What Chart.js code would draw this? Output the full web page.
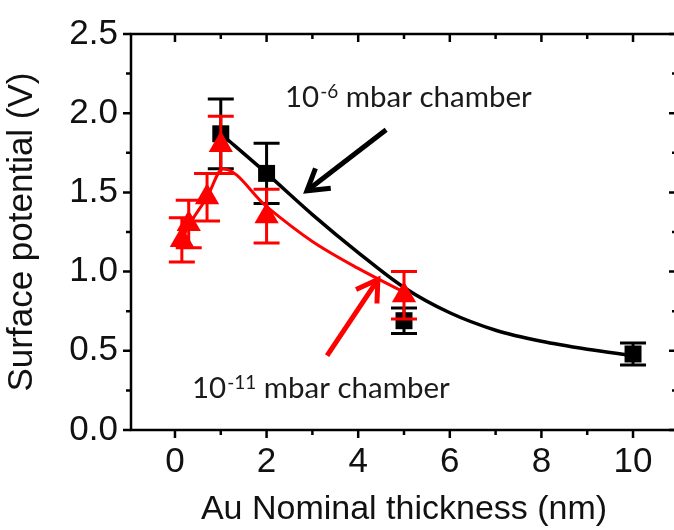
<!DOCTYPE html>
<html>
<head>
<meta charset="utf-8">
<title>Surface potential vs Au thickness</title>
<script src="https://cdn.jsdelivr.net/npm/chart.js@4.4.0/dist/chart.umd.min.js"></script>
<style>
  body { margin: 0; overflow: hidden; background: #fff; }
  #wrap { position: relative; width: 700px; height: 530px; }
</style>
</head>
<body>
<div id="wrap"><canvas id="potentialChart" width="700" height="530"></canvas></div>
<script>
// 10^-6 mbar chamber (black squares)
var thickHigh = [1, 2, 5, 10];
var potHigh = [1.87, 1.62, 0.69, 0.48];
var errHigh = [0.22, 0.19, 0.08, 0.07];

// 10^-11 mbar chamber (red triangles)
var thickUhv = [0.15, 0.3, 0.7, 1, 2, 5];
var potUhv = [1.20, 1.30, 1.47, 1.80, 1.35, 0.85];
var errUhv = [0.14, 0.15, 0.15, 0.18, 0.17, 0.15];

// fitted curves
var fitHighX = [1, 2, 3, 4, 5, 6, 7, 8, 9, 10];
var fitHighY = [1.87, 1.62, 1.36, 1.12, 0.90, 0.74, 0.63, 0.56, 0.51, 0.47];
var fitUhvX = [0.15, 0.3, 0.7, 1.05, 2, 3, 4, 5];
var fitUhvY = [1.20, 1.29, 1.47, 1.65, 1.41, 1.19, 1.02, 0.87];

var xTicks = [0, 2, 4, 6, 8, 10];
var yTicks = [0, 0.5, 1, 1.5, 2, 2.5];

var axisFont = 'Liberation Sans, Arial, sans-serif';
var noteFont = 'Lato, sans-serif';

function toPoints(xs, ys) {
	var pts = [];
	for (var i = 0; i < xs.length; i++) {
		pts.push({x: xs[i], y: ys[i]});
	}
	return pts;
}

function drawErrors(chart, xs, ys, errs, color) {
	var ctx = chart.ctx;
	var sx = chart.scales.x, sy = chart.scales.y;
	ctx.save();
	ctx.strokeStyle = color;
	ctx.lineWidth = 3;
	for (var i = 0; i < xs.length; i++) {
		var px = sx.getPixelForValue(xs[i]);
		var top = sy.getPixelForValue(ys[i] + errs[i]);
		var bot = sy.getPixelForValue(ys[i] - errs[i]);
		ctx.beginPath();
		ctx.moveTo(px, top); ctx.lineTo(px, bot);
		ctx.moveTo(px - 13, top); ctx.lineTo(px + 13, top);
		ctx.moveTo(px - 13, bot); ctx.lineTo(px + 13, bot);
		ctx.stroke();
	}
	ctx.restore();
}

function drawArrow(ctx, x1, y1, x2, y2, color) {
	var ang = Math.atan2(y1 - y2, x1 - x2);
	ctx.save();
	ctx.strokeStyle = color;
	ctx.lineWidth = 5;
	ctx.beginPath();
	ctx.moveTo(x1, y1); ctx.lineTo(x2, y2);
	ctx.stroke();
	ctx.beginPath();
	ctx.moveTo(x2 + 24 * Math.cos(ang - 0.55), y2 + 24 * Math.sin(ang - 0.55));
	ctx.lineTo(x2, y2);
	ctx.lineTo(x2 + 24 * Math.cos(ang + 0.55), y2 + 24 * Math.sin(ang + 0.55));
	ctx.stroke();
	ctx.restore();
}

function drawNote(ctx, x, y, exp) {
	ctx.save();
	ctx.fillStyle = '#1a1a1a';
	ctx.textBaseline = 'alphabetic';
	ctx.font = '29.5px ' + noteFont;
	ctx.fillText('10', x, y);
	var w = ctx.measureText('10').width;
	ctx.font = '19px ' + noteFont;
	ctx.fillText(exp, x + w + 1, y - 9);
	var w2 = ctx.measureText(exp).width;
	ctx.font = '29.5px ' + noteFont;
	ctx.fillText(' mbar chamber', x + w + w2 + 1, y);
	ctx.restore();
}

var framePlugin = {
	id: 'frame',
	beforeDatasetDraw: function(chart, args) {
		if (args.index === 1) drawErrors(chart, thickHigh, potHigh, errHigh, '#000');
		if (args.index === 3) drawErrors(chart, thickUhv, potUhv, errUhv, '#ff0000');
	},
	afterDraw: function(chart) {
		var ctx = chart.ctx, a = chart.chartArea;
		var sx = chart.scales.x, sy = chart.scales.y;
		ctx.save();
		ctx.strokeStyle = '#000';
		ctx.lineWidth = 2.5;
		ctx.strokeRect(a.left, a.top, a.right - a.left, a.bottom - a.top);
		ctx.beginPath();
		for (var v = 0; v <= 10; v++) {
			var px = sx.getPixelForValue(v);
			var len = (v % 2 === 0) ? 8 : 5;
			ctx.moveTo(px, a.bottom); ctx.lineTo(px, a.bottom + len);
			ctx.moveTo(px, a.top); ctx.lineTo(px, a.top + len);
		}
		for (var k = 0; k <= 10; k++) {
			var py = sy.getPixelForValue(k * 0.25);
			var l2 = (k % 2 === 0) ? 8 : 5;
			ctx.moveTo(a.left - l2, py); ctx.lineTo(a.left, py);
			ctx.moveTo(a.right - l2, py); ctx.lineTo(a.right, py);
		}
		ctx.stroke();
		ctx.restore();

		// annotations
		drawArrow(ctx, sx.getPixelForValue(4.61), sy.getPixelForValue(1.895),
			sx.getPixelForValue(2.88), sy.getPixelForValue(1.51), '#000');
		drawArrow(ctx, sx.getPixelForValue(3.32), sy.getPixelForValue(0.47),
			sx.getPixelForValue(4.43), sy.getPixelForValue(0.95), '#ff0000');
		drawNote(ctx, sx.getPixelForValue(2.40), sy.getPixelForValue(2.04), '-6');
		drawNote(ctx, sx.getPixelForValue(0.37), sy.getPixelForValue(0.20), '-11');
	}
};

var ctx = document.getElementById('potentialChart').getContext('2d');
var potentialChart = new Chart(ctx, {
	type: 'scatter',
	data: {
		datasets: [
			{
				label: 'fit 1e-6',
				data: toPoints(fitHighX, fitHighY),
				showLine: true,
				borderColor: '#000',
				borderWidth: 3.5,
				pointRadius: 0,
				cubicInterpolationMode: 'monotone',
				order: 4
			},
			{
				label: '10-6 mbar chamber',
				data: toPoints(thickHigh, potHigh),
				pointStyle: 'rect',
				pointRadius: 12,
				backgroundColor: '#000',
				borderColor: '#000',
				borderWidth: 0,
				order: 3
			},
			{
				label: 'fit 1e-11',
				data: toPoints(fitUhvX, fitUhvY),
				showLine: true,
				borderColor: '#ff0000',
				borderWidth: 3,
				pointRadius: 0,
				cubicInterpolationMode: 'monotone',
				order: 2
			},
			{
				label: '10-11 mbar chamber',
				data: toPoints(thickUhv, potUhv),
				pointStyle: 'triangle',
				pointRadius: 14,
				backgroundColor: '#ff0000',
				borderColor: '#ff0000',
				borderWidth: 0,
				order: 1
			}
		]
	},
	options: {
		responsive: false,
		animation: false,
		devicePixelRatio: 1,
		layout: { padding: { left: 0, top: 29, right: 23, bottom: 0 } },
		plugins: { legend: { display: false }, tooltip: { enabled: false } },
		scales: {
			x: {
				type: 'linear',
				min: -0.96,
				max: 10.96,
				afterFit: function(s) { s.height = 100; },
				afterBuildTicks: function(s) { s.ticks = xTicks.map(function(v) { return {value: v}; }); },
				grid: { display: false, drawTicks: false },
				border: { display: false },
				ticks: {
					padding: 11, color: '#111', autoSkip: false, maxRotation: 0,
					font: { family: axisFont, size: 35 },
					callback: function(v) { return String(v); }
				},
				title: {
					display: true, text: 'Au Nominal thickness (nm)', color: '#111',
					font: { family: axisFont, size: 34 }, padding: { top: 0, bottom: 0 }
				}
			},
			y: {
				type: 'linear',
				min: 0,
				max: 2.5,
				afterFit: function(s) { s.width = 131; },
				afterBuildTicks: function(s) { s.ticks = yTicks.map(function(v) { return {value: v}; }); },
				grid: { display: false, drawTicks: false },
				border: { display: false },
				ticks: {
					padding: 13, color: '#111',
					font: { family: axisFont, size: 35 },
					callback: function(v) { return v.toFixed(1); }
				},
				title: {
					display: true, text: 'Surface potential (V)', color: '#111',
					font: { family: axisFont, size: 35 }, padding: { top: 1, bottom: 0 }
				}
			}
		}
	},
	plugins: [framePlugin]
});
</script>
</body>
</html>
